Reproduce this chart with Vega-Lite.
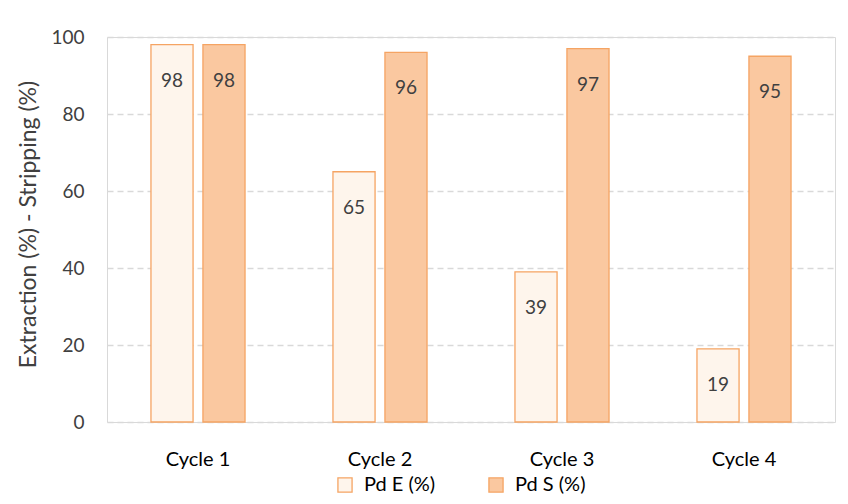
{
  "$schema": "https://vega.github.io/schema/vega-lite/v6.json",
  "width": 728,
  "height": 385,
  "autosize": {"type": "none"},
  "padding": {"left": 107, "top": 37, "right": 13, "bottom": 82},
  "background": "white",
  "config": {
    "font": "Lato",
    "view": {"stroke": "#d9d9d9", "strokeWidth": 1}
  },
  "data": {
    "values": [
      {"cycle": "Cycle 1", "series": "Pd E (%)", "value": 98},
      {"cycle": "Cycle 1", "series": "Pd S (%)", "value": 98},
      {"cycle": "Cycle 2", "series": "Pd E (%)", "value": 65},
      {"cycle": "Cycle 2", "series": "Pd S (%)", "value": 96},
      {"cycle": "Cycle 3", "series": "Pd E (%)", "value": 39},
      {"cycle": "Cycle 3", "series": "Pd S (%)", "value": 97},
      {"cycle": "Cycle 4", "series": "Pd E (%)", "value": 19},
      {"cycle": "Cycle 4", "series": "Pd S (%)", "value": 95}
    ]
  },
  "encoding": {
    "x": {
      "field": "cycle",
      "type": "nominal",
      "scale": {"paddingInner": 0, "paddingOuter": 0},
      "axis": {
        "title": null,
        "labelAngle": 0,
        "labelFontSize": 20,
        "labelColor": "#000000",
        "labelPadding": 27,
        "domain": false,
        "ticks": false
      }
    },
    "xOffset": {
      "field": "series",
      "type": "nominal",
      "scale": {"paddingInner": 0.19, "paddingOuter": 0.846}
    },
    "y": {
      "field": "value",
      "type": "quantitative",
      "scale": {"domain": [0, 100]},
      "axis": {
        "title": "Extraction (%) - Stripping (%)",
        "titleFontSize": 23,
        "titleFontWeight": "normal",
        "titleColor": "#404040",
        "titlePadding": 10,
        "titleY": 187,
        "values": [0, 20, 40, 60, 80, 100],
        "labelFontSize": 19,
        "labelColor": "#404040",
        "labelPadding": 23,
        "domain": false,
        "ticks": false,
        "gridColor": "#d9d9d9",
        "gridDash": [6, 4],
        "gridWidth": 1.3
      }
    }
  },
  "layer": [
    {
      "mark": {"type": "bar", "stroke": "#f5a463", "strokeWidth": 1.3},
      "encoding": {
        "fill": {
          "field": "series",
          "type": "nominal",
          "scale": {"domain": ["Pd E (%)", "Pd S (%)"], "range": ["#fef5ec", "#fac8a0"]},
          "legend": {
            "title": null,
            "orient": "none",
            "legendX": 228,
            "legendY": 438,
            "direction": "horizontal",
            "symbolType": "square",
            "symbolSize": 200,
            "symbolStrokeColor": "#f5a463",
            "symbolStrokeWidth": 1.3,
            "labelFontSize": 20,
            "labelColor": "#000000",
            "labelOffset": 9,
            "columnPadding": 50
          }
        }
      }
    },
    {
      "mark": {"type": "text", "baseline": "middle", "dy": 36, "fontSize": 19, "color": "#404040"},
      "encoding": {
        "text": {"field": "value", "type": "quantitative"}
      }
    }
  ]
}
